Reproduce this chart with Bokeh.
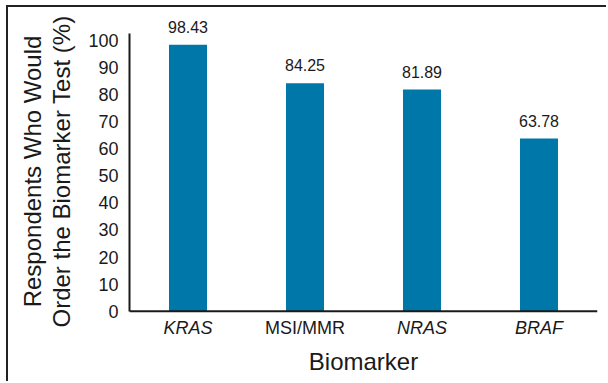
from bokeh.plotting import figure
from bokeh.models import ColumnDataSource, Range1d, FixedTicker, Span
from bokeh.core.properties import value
from bokeh.embed import file_html
from bokeh.resources import INLINE

# Share of respondents who would order each biomarker test
biomarkers = ["KRAS", "MSI/MMR", "NRAS", "BRAF"]
percent = [98.43, 84.25, 81.89, 63.78]
label_styles = ["italic", "normal", "italic", "italic"]
y_ticks = [0, 10, 20, 30, 40, 50, 60, 70, 80, 90, 100]

BAR = "#0077a9"
INK = "#1a1a1a"
FONT = "Liberation Sans"

src = ColumnDataSource(dict(
    name=biomarkers,
    pct=percent,
    txt=[f"{v:.2f}" for v in percent],
    style=label_styles,
    ybase=[0] * len(biomarkers),
))

# the frame reaches above and below the value axis so that the value
# labels and category names can be drawn as glyphs
p = figure(
    x_range=biomarkers,
    y_range=Range1d(-9.0, 112.2),
    width=600, height=376,
    output_backend="svg", toolbar_location=None,
    min_border_left=121, min_border_right=11,
    min_border_top=0, min_border_bottom=48,
)
p.margin = (5, 0, 0, 6)
p.styles = {"border-left": "2px solid #222222", "border-top": "2px solid #222222"}

p.vbar(x="name", top="pct", width=0.325, source=src, color=BAR, line_color=None)

# value above each bar
p.text(x="name", y="pct", text="txt", source=src, y_offset=-18,
       text_align="center", text_baseline="alphabetic",
       text_font=value(FONT), text_font_size="16px", text_color=INK)

# category names under the baseline, gene names in italics
p.text(x="name", y="ybase", text="name", source=src, y_offset=17,
       text_align="center", text_baseline="middle",
       text_font=value(FONT), text_font_size="18px", text_color=INK,
       text_font_style="style")

# baseline of the bars
p.add_layout(Span(location=0, dimension="width", line_color=INK, line_width=2))

p.xgrid.visible = False
p.ygrid.visible = False
p.outline_line_color = None

for ax in (p.xaxis[0], p.yaxis[0]):
    ax.major_tick_line_color = None
    ax.minor_tick_line_color = None
    ax.major_tick_out = 0
    ax.minor_tick_out = 0
    ax.axis_label_text_font = FONT
    ax.axis_label_text_font_style = "normal"
    ax.axis_label_text_color = INK
    ax.major_label_text_font = FONT
    ax.major_label_text_font_size = "18px"
    ax.major_label_text_color = INK

p.xaxis.axis_line_color = None
p.xaxis.major_label_text_font_size = "1px"
p.xaxis.major_label_text_alpha = 0
p.xaxis.major_label_standoff = 0
p.xaxis.axis_label = "Biomarker"
p.xaxis.axis_label_text_font_size = "24px"
p.xaxis.axis_label_standoff = 12

p.yaxis.axis_line_color = INK
p.yaxis.axis_line_width = 2
p.yaxis.bounds = (0, 102.7)
p.yaxis.ticker = FixedTicker(ticks=y_ticks)
p.yaxis.major_label_standoff = 11
p.yaxis.axis_label = "Respondents Who Would\nOrder the Biomarker Test (%)"
p.yaxis.axis_label_text_font_size = "24px"
p.yaxis.axis_label_text_line_height = 1.1
p.yaxis.axis_label_standoff = 10

open("out.html", "w").write(file_html(p, INLINE))
